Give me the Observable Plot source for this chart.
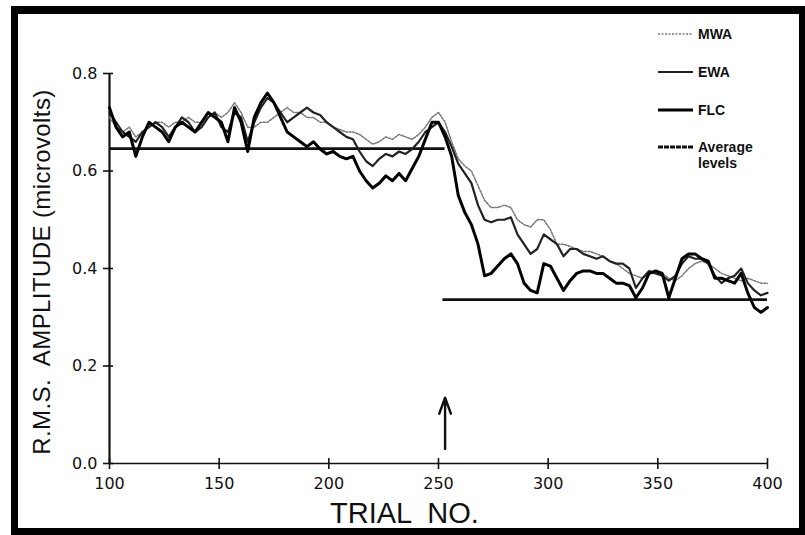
<!DOCTYPE html>
<html>
<head>
<meta charset="utf-8">
<script src="https://cdn.jsdelivr.net/npm/d3@7"></script>
<script src="https://cdn.jsdelivr.net/npm/@observablehq/plot@0.6"></script>
<style>
  html, body { margin: 0; padding: 0; background: #fff; }
  #wrap { position: relative; width: 805px; height: 535px; overflow: hidden; background: #fff; }
  #chart { position: absolute; left: 0; top: 0; }
  #frame {
    position: absolute; left: 11px; top: 6px; width: 794px; height: 529px;
    box-sizing: border-box; border-style: solid; border-color: #000;
    border-width: 8px 6px 7px 7px; pointer-events: none;
  }
  .ytitle {
    position: absolute; left: 42px; top: 272px;
    transform: translate(-50%, -50%) rotate(-90deg);
    font-family: "Liberation Sans", Arial, sans-serif; font-size: 24px;
    white-space: pre; color: #111; letter-spacing: 0.4px;
  }
  .xtitle {
    position: absolute; left: 330px; top: 497px;
    font-family: "Liberation Sans", Arial, sans-serif; font-size: 29px;
    white-space: pre; color: #111;
  }
  #legend { position: absolute; left: 656px; top: 22px; font-family: "Liberation Sans", Arial, sans-serif; font-weight: bold; font-size: 14px; color: #111; }
  #legend .item { position: absolute; white-space: nowrap; }
  #legend svg { position: absolute; left: 0; }
  #legend span { position: absolute; left: 42px; line-height: 16px; }
</style>
</head>
<body>
<div id="wrap">
  <div id="chart"></div>
  <div class="ytitle">R.M.S.  AMPLITUDE (microvolts)</div>
  <div class="xtitle">TRIAL  NO.</div>
  <div id="legend"></div>
  <div id="frame"></div>
</div>
<script>
// Trial numbers at which the running amplitude estimates are sampled
const trials = [100,103,106,109,112,115,118,121,124,127,130,133,136,139,142,145,148,151,154,157,
  160,163,166,169,172,175,178,181,184,187,190,193,196,199,202,205,208,211,214,217,
  220,223,226,229,232,235,238,241,244,247,250,253,256,259,262,265,268,271,274,277,
  280,283,286,289,292,295,298,301,304,307,310,313,316,319,322,325,328,331,334,337,
  340,343,346,349,352,355,358,361,364,367,370,373,376,379,382,385,388,391,394,397,400];

// Moving-window average
const mwa = [0.71,0.69,0.68,0.69,0.67,0.68,0.69,0.70,0.70,0.69,0.70,0.70,0.71,0.70,0.70,0.71,0.72,0.71,0.72,0.74,
  0.72,0.69,0.69,0.70,0.70,0.71,0.72,0.73,0.72,0.72,0.71,0.71,0.70,0.70,0.69,0.685,0.68,0.68,0.675,0.665,
  0.655,0.66,0.67,0.665,0.675,0.67,0.665,0.675,0.69,0.71,0.72,0.70,0.66,0.625,0.61,0.60,0.57,0.54,0.525,0.525,
  0.53,0.525,0.50,0.49,0.485,0.50,0.50,0.48,0.45,0.45,0.445,0.44,0.435,0.435,0.43,0.425,0.415,0.41,0.40,0.39,
  0.385,0.38,0.39,0.39,0.39,0.38,0.375,0.385,0.40,0.41,0.415,0.41,0.40,0.39,0.385,0.38,0.375,0.38,0.375,0.37,0.37];

// Exponentially weighted average
const ewa = [0.72,0.70,0.68,0.67,0.66,0.68,0.69,0.70,0.69,0.67,0.69,0.71,0.70,0.68,0.69,0.71,0.72,0.69,0.68,0.72,
  0.71,0.66,0.70,0.73,0.75,0.74,0.72,0.70,0.71,0.72,0.73,0.72,0.715,0.70,0.69,0.68,0.67,0.665,0.64,0.62,
  0.61,0.625,0.635,0.63,0.64,0.635,0.645,0.66,0.68,0.69,0.70,0.68,0.65,0.615,0.595,0.575,0.53,0.50,0.495,0.50,
  0.50,0.505,0.47,0.45,0.43,0.44,0.47,0.46,0.45,0.425,0.44,0.44,0.43,0.425,0.42,0.425,0.415,0.41,0.41,0.40,
  0.36,0.38,0.395,0.39,0.385,0.375,0.385,0.41,0.425,0.42,0.42,0.41,0.385,0.37,0.38,0.385,0.40,0.37,0.355,0.345,0.35];

// Fast-learning filter
const flc = [0.73,0.69,0.67,0.68,0.63,0.67,0.70,0.69,0.68,0.66,0.69,0.70,0.69,0.68,0.70,0.72,0.71,0.70,0.66,0.73,
  0.70,0.64,0.71,0.74,0.76,0.74,0.71,0.68,0.67,0.66,0.65,0.66,0.645,0.635,0.64,0.63,0.625,0.63,0.60,0.58,
  0.565,0.575,0.59,0.58,0.595,0.58,0.605,0.63,0.665,0.70,0.70,0.67,0.63,0.55,0.515,0.49,0.45,0.385,0.39,0.405,
  0.42,0.43,0.41,0.37,0.355,0.35,0.41,0.405,0.38,0.355,0.375,0.39,0.395,0.395,0.39,0.39,0.38,0.37,0.37,0.365,
  0.34,0.36,0.39,0.395,0.39,0.34,0.38,0.42,0.43,0.43,0.42,0.415,0.38,0.38,0.375,0.37,0.39,0.35,0.32,0.31,0.32];

// Average amplitude before and after the change
const levelFrom = [100, 252];
const levelTo = [253, 400];
const levelValue = [0.646, 0.336];

// Change point marker
const changeTrial = [253];
const changeArrowFrom = [0.03];
const changeArrowTo = [0.135];

const xTicks = [100, 150, 200, 250, 300, 350, 400];
const yTicks = [0, 0.2, 0.4, 0.6, 0.8];
const yTickLabels = ["0.0", "0.2", "0.4", "0.6", "0.8"];

const rows = (values) => trials.map((t, i) => ({trial: t, value: values[i]}));
const levels = levelValue.map((v, i) => ({x1: levelFrom[i], x2: levelTo[i], y: v}));
const arrows = changeTrial.map((t, i) => ({x: t, y1: changeArrowFrom[i], y2: changeArrowTo[i]}));

const tickFont = {fontFamily: "'DejaVu Sans', sans-serif", fontSize: 16, letterSpacing: "1.5px"};

const chart = Plot.plot({
  width: 805,
  height: 535,
  marginLeft: 109,
  marginRight: 38,
  marginTop: 73,
  marginBottom: 72,
  style: {background: "transparent", color: "#111", overflow: "visible"},
  x: {domain: [100, 400]},
  y: {domain: [0, 0.8]},
  marks: [
    Plot.ruleY([0], {stroke: "#111", strokeWidth: 1.6}),
    Plot.ruleX([100], {stroke: "#111", strokeWidth: 2.2}),
    Plot.axisX({ticks: xTicks, tickSize: 6, tickPadding: 8, tickFormat: d => String(d), label: null, strokeWidth: 1.6, ...tickFont}),
    Plot.axisX({ticks: xTicks, tickSize: -5, text: null, label: null, strokeWidth: 1.6}),
    Plot.axisY({ticks: yTicks, tickSize: 6, tickPadding: 6, tickFormat: d => yTickLabels[yTicks.indexOf(d)], label: null, strokeWidth: 1.6, ...tickFont}),
    Plot.axisY({ticks: yTicks, tickSize: -4, text: null, label: null, strokeWidth: 1.6}),
    Plot.ruleY(levels, {x1: "x1", x2: "x2", y: "y", stroke: "#111", strokeWidth: 2.8}),
    Plot.line(rows(mwa), {x: "trial", y: "value", stroke: "#777", strokeWidth: 1.5, strokeDasharray: "2,1.5"}),
    Plot.line(rows(ewa), {x: "trial", y: "value", stroke: "#222", strokeWidth: 2.2}),
    Plot.line(rows(flc), {x: "trial", y: "value", stroke: "#000", strokeWidth: 3}),
    Plot.arrow(arrows, {x: "x", y1: "y1", y2: "y2", stroke: "#111", strokeWidth: 2.4, headLength: 11, headAngle: 40})
  ]
});
document.getElementById("chart").appendChild(chart);

// Legend entries with their line samples
const legendItems = [
  {label: "MWA", top: 4, stroke: "#777", width: 1.5, dash: "2,1.5"},
  {label: "EWA", top: 42, stroke: "#222", width: 2.2, dash: null},
  {label: "FLC", top: 80, stroke: "#000", width: 3, dash: null},
  {label: "Average<br>levels", top: 117, stroke: "#111", width: 2.8, dash: "5,1"}
];
const legend = document.getElementById("legend");
for (const it of legendItems) {
  const div = document.createElement("div");
  div.className = "item";
  div.style.top = it.top + "px";
  div.innerHTML = `<svg width="38" height="16"><line x1="2" x2="37" y1="8" y2="8" stroke="${it.stroke}" stroke-width="${it.width}" ${it.dash ? `stroke-dasharray="${it.dash}"` : ""}/></svg><span>${it.label}</span>`;
  legend.appendChild(div);
}
</script>
</body>
</html>
